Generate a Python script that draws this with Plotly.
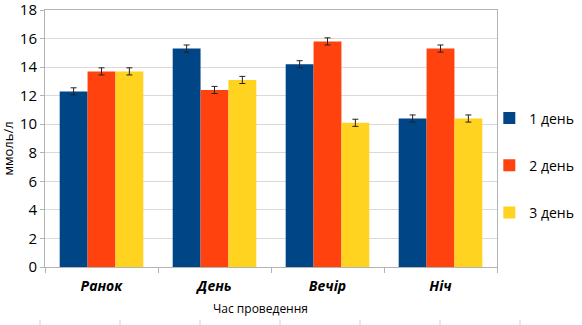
import plotly.graph_objects as go

# Glucose level by time of measurement, three days of observation
categories = ["Ранок", "День", "Вечір", "Ніч"]
day1 = [12.3, 15.3, 14.2, 10.4]
day2 = [13.7, 12.4, 15.8, 15.3]
day3 = [13.7, 13.1, 10.1, 10.4]
err = [0.25, 0.25, 0.25, 0.25]
series_names = ["1 день", "2 день", "3 день"]
colors = ["#004586", "#ff420e", "#ffd320"]
y_ticks = [0, 2, 4, 6, 8, 10, 12, 14, 16, 18]

cat_labels = [f"<b><i>{c}</i></b>" for c in categories]

fig = go.Figure()
for i, (name, vals, col) in enumerate(zip(series_names, [day1, day2, day3], colors)):
    fig.add_trace(go.Bar(
        x=cat_labels, y=vals, name=name, marker=dict(color=col, line=dict(width=0)),
        error_y=dict(type="data", array=err, color="#222222", thickness=1, width=3),
        legendgroup=f"g{i}",
    ))

# faint tick marks along the bottom edge of the page
for k in range(7):
    xp = 40 + 80 * k
    fig.add_shape(type="line", xref="paper", yref="paper",
                  x0=(xp - 45) / 452, x1=(xp - 45) / 452,
                  y0=-(320 - 267) / 258, y1=-(326 - 267) / 258,
                  line=dict(color="#cfcfcf", width=1))

font = "Open Sans, DejaVu Sans, sans-serif"

# axis titles
fig.add_annotation(text="Час проведення", xref="paper", yref="paper",
                   x=0.476, y=-(309 - 267) / 258, xanchor="center", yanchor="middle",
                   showarrow=False, font=dict(size=12))
fig.add_annotation(text="ммоль/л", xref="paper", yref="paper", textangle=-90,
                   x=-(45 - 8) / 452, y=0.461, xanchor="center", yanchor="middle",
                   showarrow=False, font=dict(size=13))

fig.update_layout(
    width=582, height=325,
    margin=dict(l=45, r=85, t=10, b=58, autoexpand=False),
    paper_bgcolor="white", plot_bgcolor="white",
    barmode="group", bargap=0.26, bargroupgap=0,
    font=dict(family=font, color="#000000"),
    legend=dict(x=0.983, xanchor="left", y=0.395, yanchor="middle",
                font=dict(size=14), tracegroupgap=26, itemwidth=30,
                traceorder="grouped", bgcolor="rgba(0,0,0,0)"),
    xaxis=dict(
        showline=True, linecolor="#b3b3b3", linewidth=1,
        ticks="outside", tickson="boundaries", ticklen=5, tickcolor="#b3b3b3",
        tickfont=dict(size=14), mirror=True, ticklabelstandoff=6,
        automargin=False,
    ),
    yaxis=dict(
        range=[0, 18], tickvals=y_ticks, showgrid=True, gridcolor="#d9d9d9",
        showline=True, linecolor="#b3b3b3", linewidth=1, mirror=True,
        ticks="outside", ticklen=4, tickcolor="#b3b3b3", automargin=False,
        tickfont=dict(size=15), zeroline=False, ticklabeloverflow="allow",
    ),
)

fig.write_html("out.html")
